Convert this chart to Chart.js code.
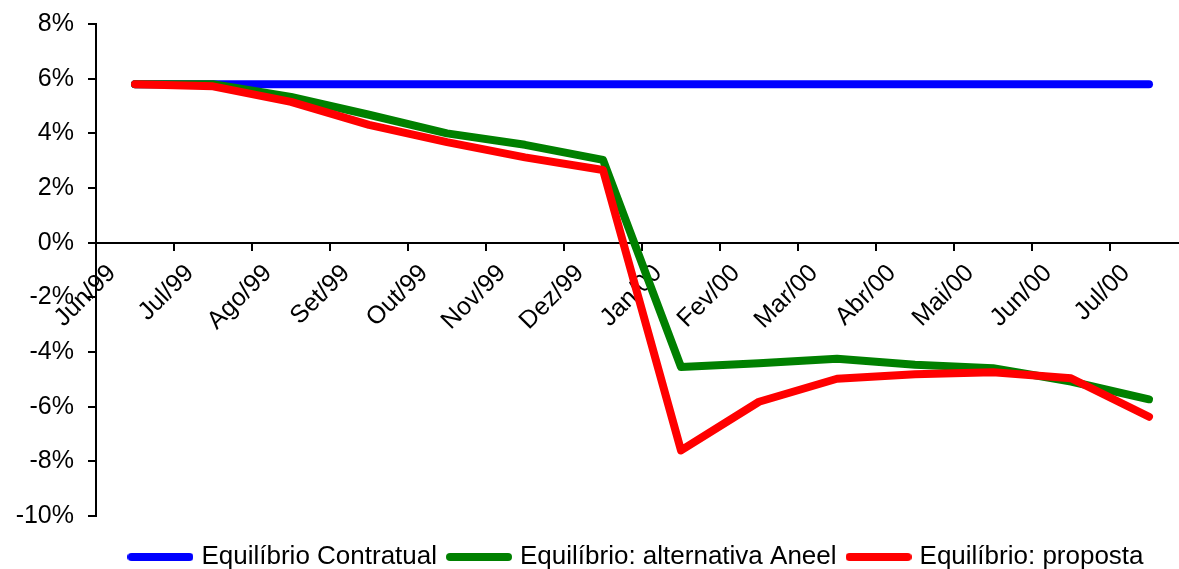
<!DOCTYPE html>
<html>
<head>
<meta charset="utf-8">
<script src="https://cdn.jsdelivr.net/npm/chart.js@4.4.1/dist/chart.umd.min.js"></script>
<style>
  html, body { margin: 0; padding: 0; background: #ffffff; overflow: hidden; }
  canvas { display: block; }
</style>
</head>
<body>
<canvas id="equilibrio" width="1188" height="569"></canvas>
<script>
// Monthly categories
const months = ['Jun/99', 'Jul/99', 'Ago/99', 'Set/99', 'Out/99', 'Nov/99', 'Dez/99',
                'Jan/00', 'Fev/00', 'Mar/00', 'Abr/00', 'Mai/00', 'Jun/00', 'Jul/00'];

// Series values, in percent
const equilibrioContratual = [5.8, 5.8, 5.8, 5.8, 5.8, 5.8, 5.8, 5.8, 5.8, 5.8, 5.8, 5.8, 5.8, 5.8];
const alternativaAneel     = [5.8, 5.8, 5.33, 4.68, 4.0, 3.58, 3.03, -4.55, -4.41, -4.25, -4.47, -4.59, -5.08, -5.73];
const proposta             = [5.8, 5.72, 5.15, 4.31, 3.68, 3.12, 2.66, -7.6, -5.82, -4.98, -4.81, -4.74, -4.96, -6.37];

// Value axis range
const yMin = -10;
const yMax = 8;
const yStep = 2;

const FONT = '"Liberation Sans", Arial, Helvetica, sans-serif';

// Legend swatch: a short thick stroke with rounded ends
function swatch(color) {
  const c = document.createElement('canvas');
  c.width = 66; c.height = 10;
  const g = c.getContext('2d');
  g.strokeStyle = color;
  g.lineWidth = 8;
  g.lineCap = 'round';
  g.beginPath();
  g.moveTo(4, 5);
  g.lineTo(62, 5);
  g.stroke();
  return c;
}

// Moves the legend row so it sits centred under the plot, near the bottom edge
const legendNudge = {
  id: 'legendNudge',
  afterLayout(chart) {
    const lg = chart.legend;
    if (!lg) return;
    const dx = -4, dy = 14;
    lg.left += dx; lg.right += dx;
    lg.top += dy; lg.bottom += dy;
  }
};

function lineSeries(label, data, color, order) {
  return {
    label: label,
    data: data,
    borderColor: color,
    backgroundColor: color,
    borderWidth: 8,
    borderCapStyle: 'round',
    borderJoinStyle: 'round',
    pointRadius: 0,
    pointHoverRadius: 0,
    pointStyle: swatch(color),
    tension: 0,
    fill: false,
    order: order
  };
}

new Chart(document.getElementById('equilibrio'), {
  type: 'line',
  data: {
    labels: months,
    datasets: [
      lineSeries('Equilíbrio Contratual', equilibrioContratual, '#0000ff', 2),
      lineSeries('Equilíbrio: alternativa Aneel', alternativaAneel, '#008000', 1),
      lineSeries('Equilíbrio: proposta', proposta, '#ff0000', 0)
    ]
  },
  options: {
    responsive: false,
    animation: false,
    devicePixelRatio: 1,
    layout: { padding: { top: 24, right: 0, bottom: 3, left: 0 } },
    plugins: {
      tooltip: { enabled: false },
      legend: {
        position: 'bottom',
        fullSize: false,
        labels: {
          usePointStyle: true,
          pointStyleWidth: 56,
          padding: 14,
          color: '#000000',
          font: { family: FONT, size: 26 },
          sort: (a, b) => a.datasetIndex - b.datasetIndex
        }
      }
    },
    scales: {
      x: {
        type: 'category',
        position: { y: 0 },
        offset: true,
        grid: {
          offset: true,
          drawOnChartArea: false,
          drawTicks: true,
          tickLength: 7,
          color: '#000000',
          lineWidth: 2
        },
        border: { display: true, color: '#000000', width: 2 },
        ticks: {
          autoSkip: false,
          maxRotation: 45,
          minRotation: 45,
          padding: 9,
          labelOffset: -23,
          color: '#000000',
          font: { family: FONT, size: 25 }
        }
      },
      y: {
        min: yMin,
        max: yMax,
        afterFit(scale) {
          scale.width = 96;
          scale.paddingTop = 0;
          scale.paddingBottom = 0;
        },
        grid: {
          drawOnChartArea: false,
          drawTicks: true,
          tickLength: 8,
          color: '#000000',
          lineWidth: 2
        },
        border: { display: true, color: '#000000', width: 2 },
        ticks: {
          stepSize: yStep,
          padding: 14,
          color: '#000000',
          font: { family: FONT, size: 25 },
          callback: (v) => v + '%'
        }
      }
    }
  },
  plugins: [legendNudge]
});
</script>
</body>
</html>
